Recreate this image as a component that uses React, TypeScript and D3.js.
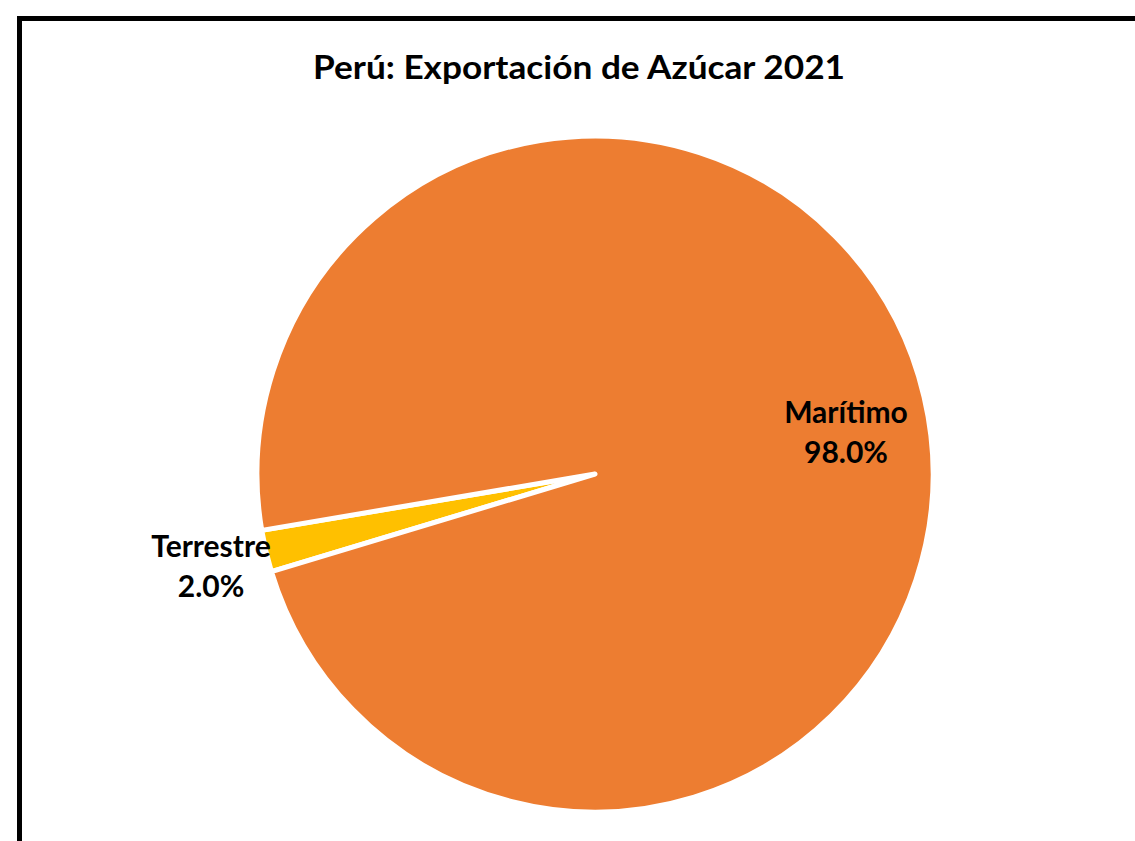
import React, { useEffect } from "react";
import * as d3 from "d3";

const categories = ["Terrestre", "Marítimo"];
const values = [2.0, 98.0];
const colors = ["#FFC000", "#ED7D31"];
const title = "Perú: Exportación de Azúcar 2021";

const W = 1135;
const H = 841;

export default function App() {
  useEffect(() => {
    document.body.style.margin = "0";
  }, []);

  const cx = 595;
  const cy = 474;
  const r = 338;
  const start = (253.2 * Math.PI) / 180;
  const pie = d3
    .pie<number>()
    .sort(null)
    .startAngle(start)
    .endAngle(start + 2 * Math.PI);
  const arcs = pie(values);
  const arc = d3.arc<d3.PieArcDatum<number>>().innerRadius(0).outerRadius(r);

  const labelPos: [number, number][] = [
    [211, 557],
    [846, 423],
  ];
  const font = "Lato, 'Open Sans', sans-serif";

  return (
    <svg width={W} height={H} style={{ display: "block" }}>
      <rect x={0} y={0} width={W} height={H} fill="#fff" />
      <rect x={19.5} y={18.5} width={1300} height={1000} fill="none" stroke="#000" strokeWidth={5} />
      <text x={579} y={79} textAnchor="middle" fontFamily={font} fontWeight={700} fontSize={33} fill="#000"
        textLength={532} lengthAdjust="spacingAndGlyphs">
        {title}
      </text>
      <g transform={`translate(${cx},${cy})`}>
        {arcs.map((a, i) => (
          <path key={i} d={arc(a) || ""} fill={colors[i]} stroke="#fff" strokeWidth={5} strokeLinejoin="round" />
        ))}
      </g>
      {arcs.map((a, i) => (
        <text key={i} textAnchor="middle" fontFamily={font} fontWeight={700} fontSize={30} fill="#000">
          <tspan x={labelPos[i][0]} y={labelPos[i][1]}>{categories[i]}</tspan>
          <tspan x={labelPos[i][0]} y={labelPos[i][1] + 40}>{values[i].toFixed(1)}%</tspan>
        </text>
      ))}
    </svg>
  );
}
